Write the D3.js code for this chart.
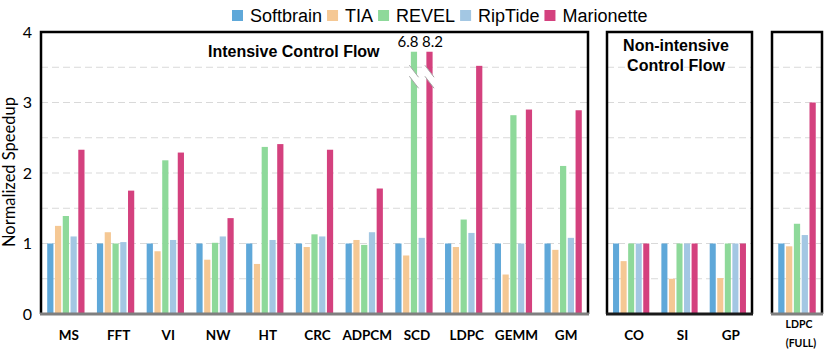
<!DOCTYPE html>
<html>
<head>
  <meta charset="utf-8">
  <title>Normalized Speedup</title>
  <script src="https://d3js.org/d3.v7.min.js"></script>
  <style>
    body { margin: 0; background: #fff; }
    text { fill: #000; }
  </style>
</head>
<body>
<svg class="chart"></svg>
<script>

// Series and colours
const seriesNames = ["Softbrain", "TIA", "REVEL", "RipTide", "Marionette"];
const seriesColors = ["#5fa8d9", "#f5c894", "#8ed99a", "#a3c7e3", "#d4417e"];

// Benchmarks, split in the three panels
const intensiveGroups = ["MS", "FFT", "VI", "NW", "HT", "CRC", "ADPCM", "SCD", "LDPC", "GEMM", "GM"];
const nonIntensiveGroups = ["CO", "SI", "GP"];
const fullGroups = ["LDPC (FULL)"];
const allGroups = intensiveGroups.concat(nonIntensiveGroups, fullGroups);

// Values, same order as allGroups
const softbrain  = [1, 1, 1, 1, 1, 1, 1, 1, 1, 1, 1, 1, 1, 1, 1];
const tia        = [1.25, 1.16, 0.89, 0.77, 0.71, 0.95, 1.05, 0.83, 0.95, 0.56, 0.91, 0.75, 0.50, 0.51, 0.96];
const revel      = [1.39, 1.00, 2.18, 1.01, 2.37, 1.13, 0.98, 6.8, 1.34, 2.82, 2.10, 1.00, 1.00, 1.00, 1.28];
const riptide    = [1.10, 1.02, 1.05, 1.10, 1.05, 1.10, 1.16, 1.08, 1.15, 1.00, 1.08, 1.00, 1.00, 1.00, 1.12];
const marionette = [2.33, 1.75, 2.29, 1.36, 2.41, 2.33, 1.78, 8.2, 3.52, 2.90, 2.89, 1.00, 1.00, 1.00, 3.00];

const yTicks = [0, 1, 2, 3, 4];
const yMax = 4;
const clipValue = 3.72;   // bars above the axis are cut here and get a break mark

const seriesValues = [softbrain, tia, revel, riptide, marionette];
const rows = [];
allGroups.forEach((g, i) => {
  seriesNames.forEach((s, j) => {
    rows.push({group: g, series: s, value: seriesValues[j][i], color: seriesColors[j]});
  });
});

const W = 831, H = 352;
const svg = d3.select(".chart").attr("width", W).attr("height", H);

const y = d3.scaleLinear().domain([0, yMax]).range([314, 32]);

const panels = [
  {x0: 41,  x1: 588, groups: intensiveGroups, base: "#7f7f7f"},
  {x0: 607, x1: 752, groups: nonIntensiveGroups, base: "#1a1a1a"},
  {x0: 772, x1: 822, groups: fullGroups, base: "#7f7f7f"}
];

const labelFont = "Lato, 'Open Sans', sans-serif";

panels.forEach(p => {
  const g = svg.append("g");
  const gx = d3.scaleBand().domain(p.groups).range([p.x0, p.x1])
    .paddingInner(0.25).paddingOuter(0.125);
  const sx = d3.scaleBand().domain(seriesNames).range([0, gx.bandwidth()])
    .paddingInner(0.2);

  // dashed grid
  g.selectAll(".grid")
    .data(d3.range(0.5, yMax, 0.5))
    .join("line")
      .attr("x1", p.x0).attr("x2", p.x1)
      .attr("y1", d => y(d)).attr("y2", d => y(d))
      .attr("stroke", "#d9d9d9")
      .attr("stroke-width", 1.2)
      .attr("stroke-dasharray", "7,4");

  const data = rows.filter(d => p.groups.includes(d.group));

  // bars
  g.selectAll(".bar")
    .data(data)
    .join("rect")
      .attr("x", d => gx(d.group) + sx(d.series))
      .attr("y", d => y(Math.min(d.value, clipValue)))
      .attr("width", sx.bandwidth())
      .attr("height", d => y(0) - y(Math.min(d.value, clipValue)))
      .attr("fill", d => d.color);

  // break marks + value labels for cut bars
  const cut = data.filter(d => d.value > yMax);
  cut.forEach((d, k) => {
    const bx = gx(d.group) + sx(d.series);
    const bw = sx.bandwidth();
    const top = y(3.5) - 2, drop = 12, gap = 11;
    const l = bx - 1.5, r = bx + bw + 1.5;
    g.append("path")
      .attr("d", `M${l},${top}L${r},${top + drop}L${r},${top + drop + gap}L${l},${top + gap}Z`)
      .attr("fill", "#fff");
    [0, gap].forEach(o => {
      g.append("line")
        .attr("x1", l).attr("y1", top + o)
        .attr("x2", r).attr("y2", top + drop + o)
        .attr("stroke", "#a6a6a6").attr("stroke-width", 1);
    });
    g.append("text")
      .attr("x", bx + bw / 2 + (k === 0 ? -6 : 3))
      .attr("y", y(clipValue) - 5)
      .attr("text-anchor", "middle")
      .style("font-family", labelFont)
      .style("font-size", "15px")
      .text(d3.format(".1f")(d.value));
  });

  // frame
  g.append("path")
    .attr("d", `M${p.x0},${y(0)}V${y(yMax)}H${p.x1}V${y(0)}`)
    .attr("fill", "none")
    .attr("stroke", "#000")
    .attr("stroke-width", 2.5);
  g.append("line")
    .attr("x1", p.x0 - 1).attr("x2", p.x1 + 1)
    .attr("y1", y(0)).attr("y2", y(0))
    .attr("stroke", p.base)
    .attr("stroke-width", 3);

  // x labels
  p.groups.forEach(name => {
    const cx = gx(name) + gx.bandwidth() / 2;
    if (name.indexOf(" ") > 0) {
      const parts = name.split(" ");
      g.append("text")
        .attr("x", cx + 2).attr("y", 328)
        .attr("text-anchor", "middle")
        .style("font-family", labelFont).style("font-weight", "bold")
        .style("font-size", "10.5px")
        .text(parts[0]);
      g.append("text")
        .attr("x", cx + 4).attr("y", 347)
        .attr("text-anchor", "middle")
        .style("font-family", labelFont).style("font-weight", "bold")
        .style("font-size", "10.5px")
        .text(parts[1]);
    } else {
      g.append("text")
        .attr("x", cx + 3).attr("y", 340)
        .attr("text-anchor", "middle")
        .style("font-family", labelFont).style("font-weight", "bold")
        .style("font-size", "13.5px")
        .text(name);
    }
  });
});

// y axis
const yAxis = svg.append("g")
  .attr("transform", `translate(41,0)`)
  .call(d3.axisLeft(y).tickValues(yTicks).tickSize(0).tickPadding(9).tickFormat(d3.format("d")));
yAxis.select(".domain").remove();
yAxis.selectAll("text")
  .style("font-family", labelFont)
  .style("font-size", "16px");

svg.append("text")
  .attr("transform", `translate(15,${y(2) - 1}) rotate(-90)`)
  .attr("text-anchor", "middle")
  .style("font-family", labelFont)
  .style("font-size", "16.5px")
  .text("Normalized Speedup");

// panel titles
svg.append("text")
  .attr("x", 208).attr("y", 57)
  .style("font-family", "'Liberation Sans', Arial, sans-serif")
  .style("font-weight", "bold")
  .style("font-size", "16px")
  .text("Intensive Control Flow");

["Non-intensive", "Control Flow"].forEach((t, i) => {
  svg.append("text")
    .attr("x", 676).attr("y", 51 + i * 20)
    .attr("text-anchor", "middle")
    .style("font-family", "'Liberation Sans', Arial, sans-serif")
    .style("font-weight", "bold")
    .style("font-size", "16px")
    .text(t);
});

// legend
const legend = svg.append("g");
let lx = 232;
seriesNames.forEach((s, i) => {
  legend.append("rect")
    .attr("x", lx).attr("y", 10)
    .attr("width", 11).attr("height", 11)
    .attr("fill", seriesColors[i]);
  const t = legend.append("text")
    .attr("x", lx + 18).attr("y", 22)
    .style("font-family", "'Liberation Sans', Arial, sans-serif")
    .style("font-size", "18px")
    .text(s);
  lx += 18 + t.node().getComputedTextLength() + 5;
});

</script>
</body>
</html>
